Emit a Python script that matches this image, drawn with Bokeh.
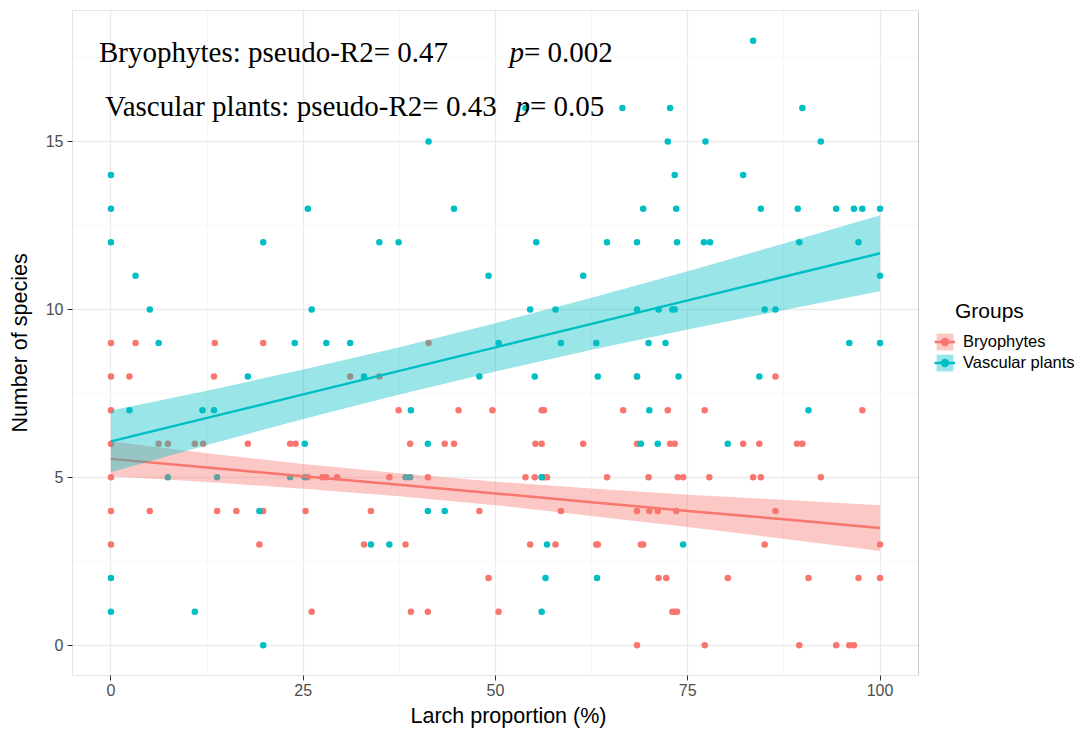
from bokeh.plotting import figure
from bokeh.models import (Range1d, FixedTicker, Legend, LegendItem, Label, Title,
                          ColumnDataSource, BoxAnnotation)
from bokeh.embed import file_html
from bokeh.resources import INLINE

RED = "#F8766D"
CYAN = "#00BFC4"

# ---- data ----
bryo_x = [0, 3.2, 13.5, 19.8, 0, 2.4, 13.4, 31.1, 0,
          0, 6.2, 7.4, 10.9, 12.0, 17.8, 23.3, 24.0,
          0, 25.6, 27.5, 28.0, 29.4,
          0, 5.05, 13.8, 16.3, 19.8, 25.3,
          0, 19.3, 32.9, 26.1,
          41.3, 34.9,
          37.4, 45.2, 49.6, 56.0, 56.3,
          38.9, 43.4, 44.6, 55.2, 56.0, 61.4,
          36.2, 41.2, 53.9, 55.1, 56.3, 56.7, 64.5,
          33.8, 47.9, 58.5,
          38.3, 54.5, 57.8, 63.1, 63.3,
          49.1, 39.0, 41.2, 50.4,
          68.4, 86.4,
          66.6, 72.4, 77.2, 97.7,
          68.4, 72.7, 73.3, 82.2, 84.3, 89.2, 89.9,
          69.9, 73.7, 74.4, 77.8, 83.5, 84.5, 92.3,
          68.4, 70.0, 71.1, 73.5, 86.4,
          68.9, 69.2, 85.0, 100,
          71.2, 72.2, 80.2, 90.7, 97.2, 100,
          73.0, 73.3, 73.6,
          68.4, 77.2, 89.5, 94.3, 96.0, 96.6]
bryo_y = [9, 9, 9, 9, 8, 8, 8, 8, 7,
          6, 6, 6, 6, 6, 6, 6, 6,
          5, 5, 5, 5, 5,
          4, 4, 4, 4, 4, 4,
          3, 3, 3, 1,
          9, 8,
          7, 7, 7, 7, 7,
          6, 6, 6, 6, 6, 6,
          5, 5, 5, 5, 5, 5, 5,
          4, 4, 4,
          3, 3, 3, 3, 3,
          2, 1, 1, 1,
          8, 8,
          7, 7, 7, 7,
          6, 6, 6, 6, 6, 6, 6,
          5, 5, 5, 5, 5, 5, 5,
          4, 4, 4, 4, 4,
          3, 3, 3, 3,
          2, 2, 2, 2, 2, 2,
          1, 1, 1,
          0, 0, 0, 0, 0, 0]

vasc_x = [0, 0, 0, 3.2, 5.05, 6.2, 19.8, 25.6, 26.1, 23.9, 28.0, 31.1, 17.8,
          2.4, 11.9, 13.4, 25.2, 7.4, 13.8, 23.3, 25.2, 19.3, 0, 0, 10.9, 19.8,
          53.9, 66.5, 41.3, 44.6, 34.9, 37.4, 55.3, 64.5, 49.1, 61.4, 54.5, 57.8,
          50.4, 58.5, 63.1, 32.9, 47.9, 55.1, 63.3,
          39.0, 41.2, 38.3, 38.9, 56.0, 41.2, 43.4, 33.8, 36.2, 56.7, 56.5, 63.2, 56.0,
          83.5, 72.7, 89.9, 72.4, 77.3, 92.3, 73.3, 82.2,
          69.2, 73.5, 84.5, 89.3, 94.3, 96.6, 97.7, 100,
          68.4, 73.6, 77.1, 77.9, 89.5, 97.2, 100,
          68.4, 71.2, 73.0, 73.3, 85.0, 86.4,
          69.9, 72.1, 96.0, 100, 68.4, 73.8, 84.3,
          70.0, 90.7, 68.9, 71.1, 80.2, 74.4]
vasc_y = [14, 13, 12, 11, 10, 9, 12, 13, 10, 9, 9, 9, 8,
          7, 7, 7, 6, 5, 5, 5, 5, 4, 2, 1, 1, 0,
          16, 16, 15, 13, 12, 12, 12, 12, 11, 11, 10, 10,
          9, 9, 9, 8, 8, 8, 8,
          7, 6, 5, 5, 5, 4, 4, 3, 3, 3, 2, 2, 1,
          18, 16, 16, 15, 15, 15, 14, 14,
          13, 13, 13, 13, 13, 13, 13, 13,
          12, 12, 12, 12, 12, 12, 11,
          10, 10, 10, 10, 10, 10,
          9, 9, 9, 9, 8, 8, 8,
          7, 7, 6, 6, 6, 3]

# fitted lines and confidence bands
fit_x = [0, 12.5, 25, 37.5, 50, 62.5, 75, 87.5, 100]
bryo_fit = [5.55, 5.29, 5.03, 4.78, 4.52, 4.26, 4.00, 3.75, 3.49]
bryo_lo = [5.03, 4.86, 4.66, 4.44, 4.17, 3.85, 3.52, 3.17, 2.81]
bryo_hi = [6.07, 5.72, 5.40, 5.12, 4.87, 4.67, 4.48, 4.33, 4.17]
vasc_fit = [6.07, 6.77, 7.47, 8.17, 8.87, 9.57, 10.27, 10.97, 11.67]
vasc_lo = [5.15, 5.96, 6.74, 7.47, 8.15, 8.80, 9.40, 9.98, 10.54]
vasc_hi = [6.99, 7.58, 8.21, 8.87, 9.59, 10.35, 11.14, 11.96, 12.80]

x_ticks = [0, 25, 50, 75, 100]
y_ticks = [0, 5, 10, 15]
groups = ["Bryophytes", "Vascular plants"]

# panel extent (data units) and extra room on the right for the legend
X0, X1, Y0, Y1 = -5, 105, -0.9, 18.9
X_EXT = X0 + (X1 - X0) * 1004 / 846

# ---- figure ----
p = figure(width=1076, height=735, output_backend="svg", toolbar_location=None,
           x_range=Range1d(X0, X_EXT), y_range=Range1d(Y0, Y1),
           min_border_left=72, min_border_right=0, min_border_top=10,
           min_border_bottom=60)
p.background_fill_color = "white"
p.border_fill_color = "white"
p.outline_line_color = None

p.xaxis.ticker = FixedTicker(ticks=x_ticks, minor_ticks=[12.5, 37.5, 62.5, 87.5])
p.yaxis.ticker = FixedTicker(ticks=y_ticks, minor_ticks=[2.5, 7.5, 12.5, 17.5])
for g in (p.xgrid[0], p.ygrid[0]):
    g.grid_line_color = "#ebebeb"
    g.grid_line_width = 1.3
    g.minor_grid_line_color = "#f5f5f5"
    g.minor_grid_line_width = 0.8

for ax in (p.xaxis[0], p.yaxis[0]):
    ax.axis_line_color = None
    ax.major_tick_line_color = "#333333"
    ax.major_tick_out = 5
    ax.major_tick_in = 0
    ax.minor_tick_line_color = None
    ax.major_label_text_font = "Liberation Sans"
    ax.major_label_text_font_size = "16px"
    ax.major_label_text_color = "#4d4d4d"
    ax.axis_label_text_font = "Liberation Sans"
    ax.axis_label_text_font_size = "21.5px"
    ax.axis_label_text_font_style = "normal"
    ax.axis_label_text_color = "black"
p.yaxis.axis_label = "Number of species"
p.xaxis.major_label_standoff = 3
p.yaxis.major_label_standoff = 4
p.yaxis.axis_label_standoff = 11

# x-axis title placed under the axis, aligned with the panel as in the reference
p.add_layout(Title(text="Larch proportion (%)", align="left", offset=338, standoff=7,
                   text_font="Liberation Sans", text_font_size="21.5px",
                   text_font_style="normal", text_color="black"), "below")

src_b = ColumnDataSource(dict(x=bryo_x, y=bryo_y))
src_v = ColumnDataSource(dict(x=vasc_x, y=vasc_y))
fit_src = ColumnDataSource(dict(x=fit_x, bf=bryo_fit, bl=bryo_lo, bh=bryo_hi,
                                vf=vasc_fit, vl=vasc_lo, vh=vasc_hi))

pts_b = p.scatter("x", "y", source=src_b, size=6.5, color=RED, line_width=0)
pts_v = p.scatter("x", "y", source=src_v, size=6.5, color=CYAN, line_width=0)

area_b = p.varea(x="x", y1="bl", y2="bh", source=fit_src, fill_color=RED, fill_alpha=0.4)
line_b = p.line("x", "bf", source=fit_src, line_color=RED, line_width=2.5)
area_v = p.varea(x="x", y1="vl", y2="vh", source=fit_src, fill_color=CYAN, fill_alpha=0.4)
line_v = p.line("x", "vf", source=fit_src, line_color=CYAN, line_width=2.5)

# white area right of the panel (hides grid there) and the panel border
p.add_layout(BoxAnnotation(left=X1, right=X_EXT, bottom=Y0, top=Y1,
                           fill_color="white", fill_alpha=1, line_alpha=0))
p.add_layout(BoxAnnotation(left=X0, right=X1, bottom=Y0, top=Y1,
                           fill_alpha=0, line_color="#5a5a5a", line_width=1))

legend = Legend(items=[LegendItem(label=groups[0], renderers=[area_b, line_b, pts_b]),
                       LegendItem(label=groups[1], renderers=[area_v, line_v, pts_v])],
                location=(862, 302), glyph_width=21, glyph_height=21, label_height=21,
                spacing=0, padding=0, margin=0, label_standoff=8,
                title="\u2003Groups", title_text_font="Liberation Sans",
                title_text_font_size="21px", title_text_font_style="normal",
                title_text_color="black", title_standoff=8,
                border_line_color=None, background_fill_alpha=0,
                label_text_font="Liberation Sans", label_text_font_size="16.5px",
                label_text_color="black")
p.add_layout(legend)

serif = "Liberation Serif"
for (x0, y0, txt), (xp, yp, ptxt) in [((-1.554, 17.66, "Bryophytes: pseudo-R2= 0.47"), (51.81, 17.66, "= 0.002")),
                                       ((-0.777, 16.05, "Vascular plants: pseudo-R2= 0.43"), (52.59, 16.05, "= 0.05"))]:
    p.add_layout(Label(x=x0, y=y0, text=txt, text_font=serif, text_font_size="29px",
                       text_baseline="alphabetic", text_color="black"))
    p.add_layout(Label(x=xp, y=yp, text="p", text_font=serif, text_font_size="29px",
                       text_font_style="italic", text_baseline="alphabetic", text_color="black"))
    p.add_layout(Label(x=xp + 1.88, y=yp, text=ptxt, text_font=serif, text_font_size="29px",
                       text_baseline="alphabetic", text_color="black"))

open("out.html", "w").write(file_html(p, INLINE))
